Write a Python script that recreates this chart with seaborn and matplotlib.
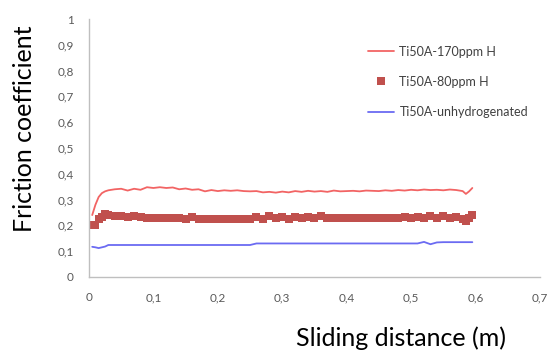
import pandas as pd
import seaborn as sns
import matplotlib.pyplot as plt
from matplotlib.ticker import FuncFormatter

# Sliding distance (m) shared by all three series
distance = [0.005, 0.01, 0.015, 0.02, 0.025,
            0.03, 0.04, 0.05, 0.06, 0.07, 0.08, 0.09, 0.10, 0.11, 0.12,
            0.13, 0.14, 0.15, 0.16, 0.17, 0.18, 0.19, 0.20, 0.21, 0.22,
            0.23, 0.24, 0.25, 0.26, 0.27, 0.28, 0.29, 0.30, 0.31, 0.32,
            0.33, 0.34, 0.35, 0.36, 0.37, 0.38, 0.39, 0.40, 0.41, 0.42,
            0.43, 0.44, 0.45, 0.46, 0.47, 0.48, 0.49, 0.50, 0.51, 0.52,
            0.53, 0.54, 0.55, 0.56, 0.57, 0.58, 0.585, 0.59, 0.595]

h170 = [0.240, 0.280, 0.310, 0.325, 0.332,
        0.336, 0.340, 0.342, 0.335, 0.342, 0.338, 0.348, 0.345, 0.348, 0.345,
        0.347, 0.340, 0.343, 0.338, 0.340, 0.332, 0.337, 0.333, 0.336, 0.334,
        0.336, 0.333, 0.332, 0.333, 0.328, 0.330, 0.327, 0.331, 0.328, 0.333,
        0.330, 0.334, 0.331, 0.333, 0.330, 0.335, 0.332, 0.333, 0.334, 0.332,
        0.335, 0.334, 0.333, 0.336, 0.334, 0.337, 0.335, 0.338, 0.336, 0.339,
        0.337, 0.338, 0.336, 0.339, 0.337, 0.333, 0.322, 0.332, 0.345]

h80 = [0.200, 0.200, 0.226, 0.232, 0.246,
       0.242, 0.237, 0.235, 0.232, 0.238, 0.232, 0.230, 0.230, 0.230, 0.230,
       0.230, 0.230, 0.224, 0.232, 0.226, 0.226, 0.226, 0.226, 0.226, 0.226,
       0.226, 0.226, 0.226, 0.232, 0.225, 0.235, 0.228, 0.234, 0.226, 0.233,
       0.228, 0.234, 0.228, 0.236, 0.227, 0.227, 0.227, 0.227, 0.227, 0.227,
       0.227, 0.227, 0.227, 0.227, 0.227, 0.227, 0.232, 0.228, 0.234, 0.228,
       0.236, 0.230, 0.235, 0.228, 0.232, 0.225, 0.218, 0.228, 0.240]

unhydro = [0.117, 0.115, 0.112, 0.115, 0.118,
           0.124, 0.124, 0.124, 0.124, 0.124, 0.124, 0.124, 0.124, 0.124, 0.124,
           0.124, 0.124, 0.124, 0.124, 0.124, 0.124, 0.124, 0.124, 0.124, 0.124,
           0.124, 0.124, 0.124, 0.130, 0.130, 0.130, 0.130, 0.130, 0.130, 0.130,
           0.130, 0.130, 0.130, 0.130, 0.130, 0.130, 0.130, 0.130, 0.130, 0.130,
           0.130, 0.130, 0.130, 0.130, 0.130, 0.130, 0.130, 0.130, 0.130, 0.136,
           0.127, 0.134, 0.135, 0.135, 0.135, 0.135, 0.135, 0.135, 0.135]

labels = ['Ti50A-170ppm H', 'Ti50A-80ppm H', 'Ti50A-unhydrogenated']

df = pd.DataFrame({'distance': distance, 'h170': h170, 'h80': h80, 'unhydro': unhydro})

sns.set_style('white')
plt.rcParams['font.family'] = ['Lato', 'DejaVu Sans']

fig = plt.figure(figsize=(5.51, 3.5), dpi=100)
ax = fig.add_axes([0.1615, 0.2086, 0.8185, 0.7371])

sns.lineplot(data=df, x='distance', y='h170', ax=ax, color='#f26464', linewidth=1.3, label=labels[0])
sns.lineplot(data=df, x='distance', y='h80', ax=ax, color='#c0504d', linestyle='', marker='s',
             markersize=6, markeredgewidth=0, label=labels[1])
sns.lineplot(data=df, x='distance', y='unhydro', ax=ax, color='#6b6bf2', linewidth=1.3, label=labels[2])

ax.set_xlim(0, 0.7)
ax.set_ylim(0, 1)
ax.set_xticks([i / 10 for i in range(8)])
ax.set_yticks([i / 10 for i in range(11)])
comma = FuncFormatter(lambda v, p: ('%g' % round(v, 2)).replace('.', ','))
ax.xaxis.set_major_formatter(comma)
ax.yaxis.set_major_formatter(comma)
ax.tick_params(axis='both', which='major', direction='out', length=3, width=0.8,
               color='#bfbfbf', labelcolor='#595959', labelsize=8.5)
ax.tick_params(axis='x', pad=8)
ax.tick_params(axis='y', pad=8)

for s in ['top', 'right']:
    ax.spines[s].set_visible(False)
for s in ['left', 'bottom']:
    ax.spines[s].set_color('#bfbfbf')
    ax.spines[s].set_linewidth(1)

ax.set_xlabel('Sliding distance (m)', fontsize=18, color='black')
ax.xaxis.set_label_coords(0.692, -0.19)
ax.set_ylabel('Friction coefficient', fontsize=18, color='black')
ax.yaxis.set_label_coords(-0.118, 0.574)

leg = ax.legend(loc='upper left', bbox_to_anchor=(0.594, 0.94), frameon=False, fontsize=9,
                handlelength=2.1, labelspacing=1.45, handletextpad=0.4, markerscale=0.9)
for t in leg.get_texts():
    t.set_color('#404040')

fig.savefig('out.png', dpi=100)
